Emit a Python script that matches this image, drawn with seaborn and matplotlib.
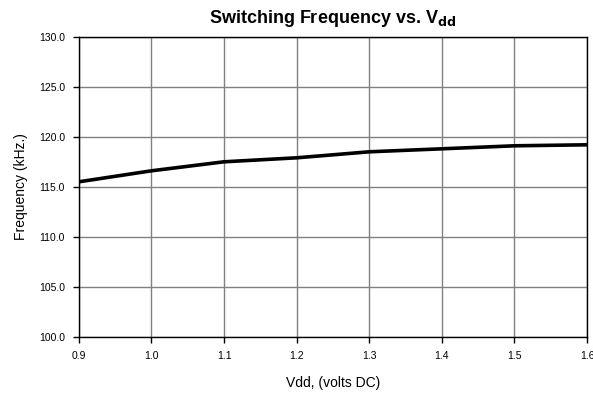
import pandas as pd
import matplotlib
matplotlib.use("Agg")
import matplotlib.pyplot as plt
import seaborn as sns

# values
vdd = [0.9, 1.0, 1.1, 1.2, 1.3, 1.4, 1.5, 1.6]
freq_khz = [115.5, 116.6, 117.5, 117.9, 118.5, 118.8, 119.1, 119.2]
x_ticks = [0.9, 1.0, 1.1, 1.2, 1.3, 1.4, 1.5, 1.6]
y_ticks = [100.0, 105.0, 110.0, 115.0, 120.0, 125.0, 130.0]

sns.set_theme(style="white")
plt.rcParams['font.family'] = ['Liberation Sans', 'DejaVu Sans']
plt.rcParams['text.color'] = 'black'
plt.rcParams['axes.labelcolor'] = 'black'
plt.rcParams['xtick.color'] = 'black'
plt.rcParams['ytick.color'] = 'black'

df = pd.DataFrame({'Vdd': vdd, 'Frequency': freq_khz})

fig = plt.figure(figsize=(5.93, 4.0), dpi=100)
ax = fig.add_axes([0.133, 0.158, 0.857, 0.75])

sns.lineplot(data=df, x='Vdd', y='Frequency', color='black', linewidth=2.6, ax=ax)

ax.set_xlim(0.9, 1.6)
ax.set_ylim(100, 130)
ax.set_xticks(x_ticks)
ax.set_yticks(y_ticks)
ax.set_xticklabels([f"{v:.1f}" for v in x_ticks])
ax.set_yticklabels([f"{v:.1f}" for v in y_ticks])
ax.grid(True, color='#808080', linewidth=1.0)
ax.set_axisbelow(True)
for s in ax.spines.values():
    s.set_color('black')
    s.set_linewidth(1.0)
ax.tick_params(axis='both', which='both', direction='out', length=4, width=1,
               labelsize=7.5, left=True, bottom=True, pad=6)

ax.set_xlabel('Vdd, (volts DC)', fontsize=10, labelpad=11)
ax.set_ylabel('Frequency (kHz.)', fontsize=10, labelpad=8)
ax.set_title(r'Switching Frequency vs. V$_{\mathbf{dd}}$', fontsize=13, fontweight='bold', pad=10)

plt.savefig('out.png', dpi=100)
